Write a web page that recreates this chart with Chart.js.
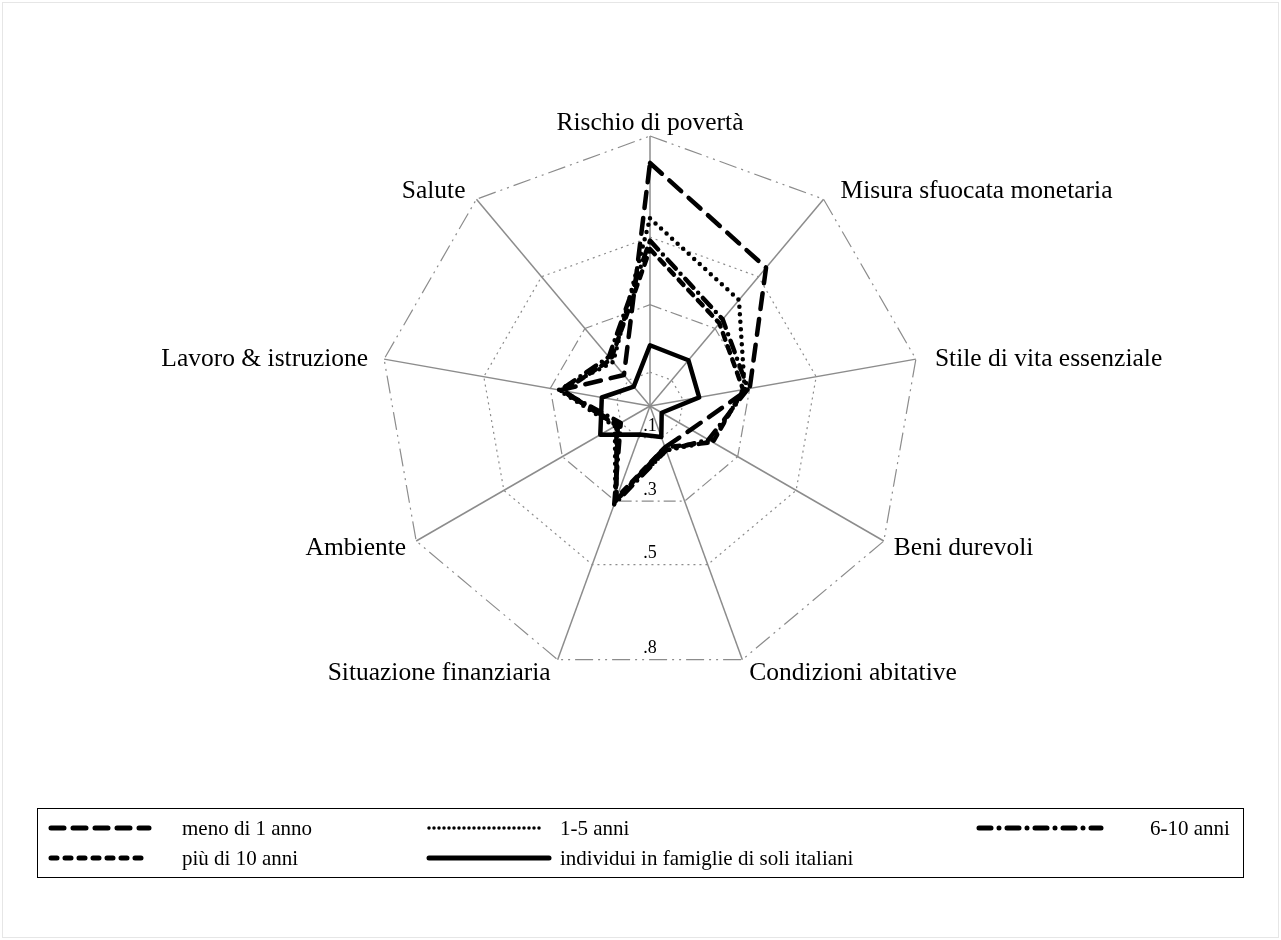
<!DOCTYPE html>
<html>
<head>
<meta charset="utf-8">
<script src="https://cdn.jsdelivr.net/npm/chart.js@4.4.1/dist/chart.umd.min.js"></script>
<style>
  html, body { margin: 0; padding: 0; background: #fff; overflow: hidden; }
  #wrap { position: relative; width: 1281px; height: 940px; }
  #frame { position: absolute; left: 2px; top: 2px; width: 1275px; height: 934px; border: 1px solid #e6e6e6; }
  canvas { position: absolute; left: 0; top: 0; }
  #legend { position: absolute; left: 37px; top: 808px; width: 1205px; height: 68px; border: 1px solid #000;
            font-family: "Liberation Serif", "Times New Roman", serif; font-size: 21px; color: #000; }
  .item { position: absolute; height: 24px; line-height: 24px; white-space: nowrap; }
  .item svg { position: absolute; top: 0; }
  .item span { position: absolute; top: 0; }
</style>
</head>
<body>
<div id="wrap">
  <div id="frame"></div>
  <canvas id="c" width="1281" height="940"></canvas>
  <div id="legend"></div>
</div>
<script>
// ---------- data ----------
const categories = ["Rischio di povertà", "Misura sfuocata monetaria", "Stile di vita essenziale",
  "Beni durevoli", "Condizioni abitative", "Situazione finanziaria", "Ambiente",
  "Lavoro & istruzione", "Salute"];
const seriesNames = ["meno di 1 anno", "1-5 anni", "6-10 anni", "più di 10 anni",
  "individui in famiglie di soli italiani"];
const menoDi1 =   [0.72, 0.535, 0.30, 0.14, 0.13, 0.30, 0.11, 0.27, 0.12];
const anni1_5 =   [0.556, 0.41, 0.285, 0.21, 0.14, 0.30, 0.12, 0.275, 0.17];
const anni6_10 =  [0.49, 0.335, 0.295, 0.20, 0.14, 0.31, 0.10, 0.27, 0.19];
const piuDi10 =   [0.465, 0.32, 0.28, 0.215, 0.13, 0.29, 0.115, 0.26, 0.18];
const italiani =  [0.18, 0.177, 0.148, 0.04, 0.098, 0.09, 0.17, 0.145, 0.075];
const tickValues = [0, 0.1, 0.3, 0.5, 0.8];
const tickLabels = ["", ".1", ".3", ".5", ".8"];

// ---------- styles ----------
const dashes = [[16, 10], [0, 7.5], [12, 7, 0, 7], [7, 7], []];
const legendDashes = [[13, 9], [0, 5], [12, 8, 0, 8], [6, 8], []];
const seriesData = [menoDi1, anni1_5, anni6_10, piuDi10, italiani];
const ringDash = [[], [2, 4], [12, 4, 2, 4], [2, 4], [18, 5, 2, 5, 2, 5]];
const serif = '"Liberation Serif", "Times New Roman", serif';

const datasets = seriesData.map((d, i) => ({
  label: seriesNames[i],
  data: d,
  fill: false,
  borderColor: '#000',
  backgroundColor: 'rgba(0,0,0,0)',
  borderWidth: 4.5,
  borderDash: dashes[i],
  borderCapStyle: 'round',
  borderJoinStyle: 'round',
  pointRadius: 0,
  pointHoverRadius: 0,
  tension: 0
}));

const labelPlugin = {
  id: 'labelPlugin',
  beforeDatasetsDraw(chart) {
    const s = chart.scales.r;
    const ctx = chart.ctx;
    ctx.save();
    ctx.fillStyle = '#000';
    ctx.font = '18px ' + serif;
    ctx.textAlign = 'center';
    ctx.textBaseline = 'bottom';
    const c20 = Math.cos(Math.PI / 9);
    tickValues.forEach((v, i) => {
      if (!tickLabels[i]) return;
      const d = s.getDistanceFromCenterForValue(v);
      ctx.fillText(tickLabels[i], s.xCenter, s.yCenter + d * c20 - 2);
    });
    ctx.restore();
  },
  afterDraw(chart) {
    const s = chart.scales.r;
    const ctx = chart.ctx;
    const R = s.getDistanceFromCenterForValue(s.max);
    ctx.save();
    ctx.fillStyle = '#000';
    ctx.font = '25.5px ' + serif;
    categories.forEach((lab, i) => {
      const p = s.getPointPosition(i, R);
      const deg = i * 360 / categories.length;
      let x = p.x, y = p.y;
      if (deg === 0) {
        ctx.textAlign = 'center'; ctx.textBaseline = 'alphabetic'; y -= 6;
      } else {
        const right = deg < 180;
        ctx.textAlign = right ? 'left' : 'right';
        let gap;
        if (deg === 40 || deg === 320) { gap = right ? 17 : 11; ctx.textBaseline = 'alphabetic'; y -= 1; }
        else if (deg === 80 || deg === 280) { gap = right ? 19 : 16; ctx.textBaseline = 'middle'; }
        else if (deg === 120 || deg === 240) { gap = 10; ctx.textBaseline = 'middle'; y += 7; }
        else { gap = 7; ctx.textBaseline = 'top'; y += 1; }
        x += right ? gap : -gap;
      }
      ctx.fillText(lab, x, y);
    });
    ctx.restore();
  }
};

new Chart(document.getElementById('c'), {
  type: 'radar',
  data: { labels: categories, datasets },
  options: {
    responsive: false,
    animation: false,
    devicePixelRatio: 1,
    layout: { padding: { left: 380, right: 361, top: 136, bottom: 264 } },
    plugins: { legend: { display: false }, tooltip: { enabled: false } },
    scales: {
      r: {
        min: 0, max: 0.8,
        afterBuildTicks: (sc) => { sc.ticks = tickValues.map(v => ({ value: v })); },
        ticks: { display: false },
        pointLabels: { display: false },
        angleLines: { display: true, color: '#8c8c8c', lineWidth: 1.5 },
        grid: { color: '#8c8c8c', lineWidth: 1.2 },
        border: { dash: (ctx) => ringDash[ctx.index] || [] }
      }
    }
  },
  plugins: [labelPlugin]
});

// ---------- legend (HTML) ----------
const legendPos = [
  { x: 10, y: 7, tx: 144 }, { x: 388, y: 7, tx: 522 }, { x: 938, y: 7, tx: 1112 },
  { x: 10, y: 37, tx: 144 }, { x: 388, y: 37, tx: 522 }
];
const legendLen = [98, 112, 122, 98, 120];
const lg = document.getElementById('legend');
seriesNames.forEach((name, i) => {
  const p = legendPos[i];
  const div = document.createElement('div');
  div.className = 'item';
  div.style.left = p.x + 'px';
  div.style.top = p.y + 'px';
  const L = legendLen[i];
  const da = legendDashes[i].length ? legendDashes[i].join(' ') : 'none';
  const w = i === 1 ? 3.5 : 5;
  div.innerHTML = `<svg width="${L + 6}" height="24" style="left:0"><line x1="3" y1="12" x2="${L + 3}" y2="12" stroke="#000" stroke-width="${w}" stroke-linecap="round" stroke-dasharray="${da}"/></svg>` +
    `<span style="left:${p.tx - p.x}px">${name}</span>`;
  lg.appendChild(div);
});
</script>
</body>
</html>
